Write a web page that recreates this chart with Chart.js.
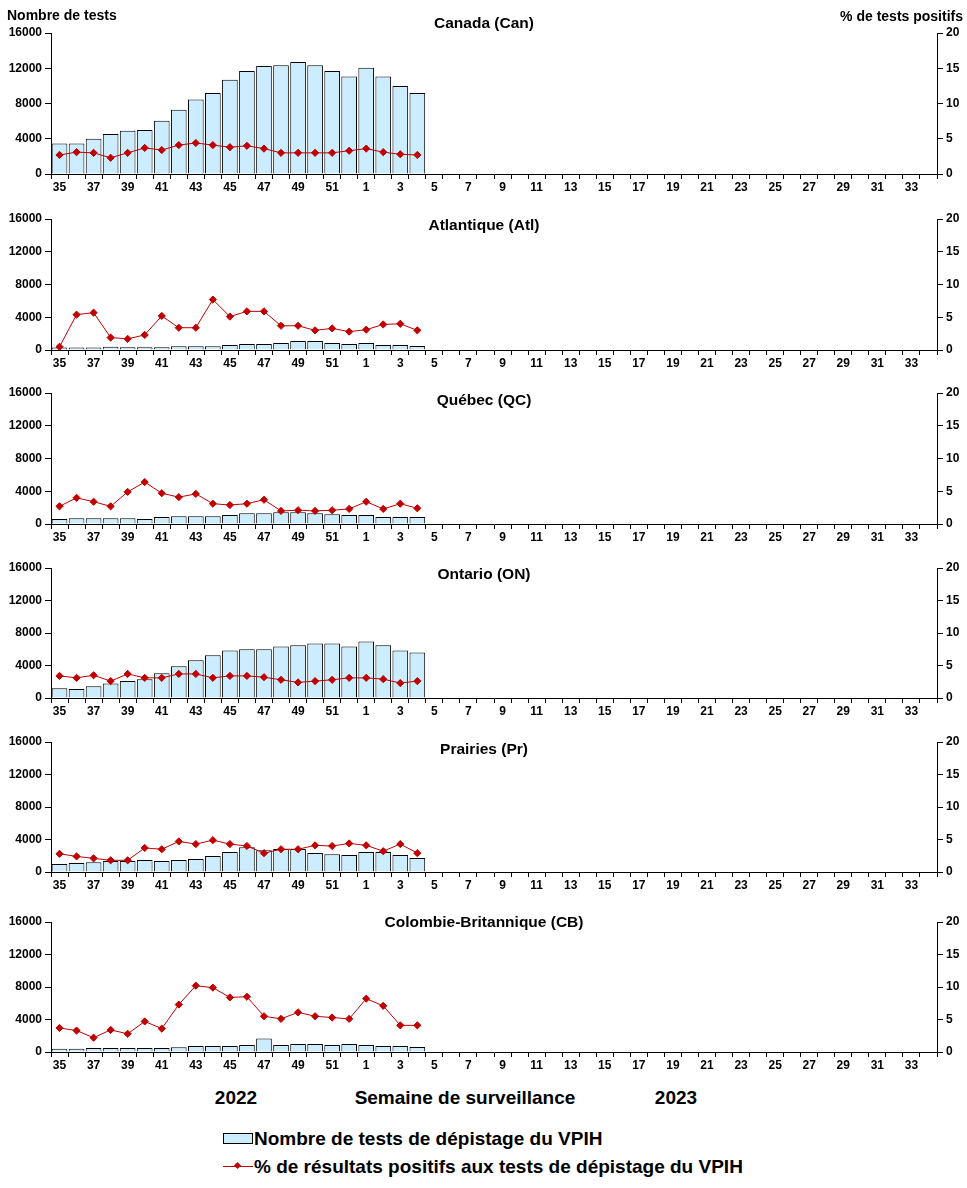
<!DOCTYPE html>
<html>
<head>
<meta charset="utf-8">
<script src="https://cdn.jsdelivr.net/npm/chart.js@4.4.1/dist/chart.umd.min.js"></script>
<style>
  html, body { margin:0; padding:0; background:#fff; }
  body { width:967px; height:1188px; position:relative; overflow:hidden; font-family:'Liberation Sans', Arial, sans-serif; color:#000; }
  canvas { position:absolute; left:0; }
  .t { position:absolute; white-space:nowrap; font-weight:bold; line-height:1; }
  .c { transform:translate(-50%,-50%); }
  .l { transform:translate(0,-50%); }
  .r { transform:translate(-100%,-50%); }
</style>
</head>
<body>
<script>
// ---- data ----
const weeks = ['35','36','37','38','39','40','41','42','43','44','45','46','47','48','49','50','51','52',
  '1','2','3','4','5','6','7','8','9','10','11','12','13','14','15','16','17','18','19','20','21','22',
  '23','24','25','26','27','28','29','30','31','32','33','34'];
const testsMax = 16000, testsStep = 4000;
const pctMax = 20, pctStep = 5;

const canTests = [3450,3450,4000,4550,4900,5000,6050,7300,8450,9200,10700,11700,12250,12350,12700,12350,11700,11050,12050,11050,10000,9200];
const canPct   = [2.7,3.1,3.0,2.3,3.0,3.7,3.4,4.1,4.4,4.1,3.8,4.0,3.6,3.0,3.0,3.0,3.0,3.3,3.6,3.1,2.8,2.7];
const atlTests = [300,300,300,400,350,350,350,450,450,450,600,730,730,850,1100,1100,850,730,850,600,600,480];
const atlPct   = [0.5,5.4,5.7,1.9,1.7,2.3,5.2,3.4,3.4,7.7,5.1,5.9,5.9,3.7,3.7,3.0,3.3,2.8,3.1,3.9,4.0,3.0];
const qcTests  = [600,700,700,700,700,600,850,950,950,950,1100,1300,1300,1450,1450,1300,1200,1100,1100,850,850,850];
const qcPct    = [2.7,4.0,3.4,2.7,4.9,6.4,4.7,4.1,4.6,3.1,2.9,3.1,3.7,2.0,2.1,2.0,2.1,2.3,3.4,2.3,3.1,2.4];
const onTests  = [1200,1100,1450,1800,2100,2300,3050,3900,4650,5250,5850,6000,6000,6350,6500,6700,6700,6350,6950,6500,5850,5600];
const onPct    = [3.4,3.1,3.5,2.6,3.7,3.1,3.1,3.7,3.7,3.1,3.4,3.4,3.2,2.8,2.4,2.6,2.8,3.1,3.1,2.9,2.3,2.6];
const prTests  = [1000,1100,1200,1350,1350,1470,1350,1470,1600,1960,2450,3060,2690,2820,2820,2330,2200,2080,2450,2450,2080,1710];
const prPct    = [2.8,2.4,2.1,1.8,1.8,3.7,3.5,4.7,4.3,4.9,4.3,4.0,2.9,3.5,3.5,4.1,4.0,4.4,4.1,3.2,4.3,2.9];
const cbTests  = [400,400,500,500,500,500,500,600,750,750,750,860,1650,860,1000,1000,860,1000,860,750,750,620];
const cbPct    = [3.7,3.3,2.2,3.4,2.8,4.7,3.6,7.3,10.2,9.9,8.4,8.5,5.5,5.1,6.1,5.5,5.3,5.1,8.2,7.1,4.1,4.1];

const regionTitles = ['Canada (Can)','Atlantique (Atl)','Québec (QC)','Ontario (ON)','Prairies (Pr)','Colombie-Britannique (CB)'];
const regionTests = [canTests, atlTests, qcTests, onTests, prTests, cbTests];
const regionPct = [canPct, atlPct, qcPct, onPct, prPct, cbPct];

const barLabel = 'Nombre de tests de dépistage du VPIH';
const lineLabel = '% de résultats positifs aux tests de dépistage du VPIH';

// ---- layout (positions only) ----
const layoutPanels = [
  {plotTop:33,  plotH:141, titleY:23},
  {plotTop:219, plotH:131, titleY:225},
  {plotTop:393, plotH:131, titleY:400},
  {plotTop:568, plotH:130, titleY:574},
  {plotTop:742, plotH:130, titleY:749},
  {plotTop:922, plotH:130, titleY:922}
];
const PAD_TOP = 12, XAX_H = 24, LEFT_W = 51, RIGHT_W = 30, W = 967;
const FONT = "'Liberation Sans', Arial, sans-serif";
const BAR_FILL = '#CCECFF', RED = '#C00000';

function addText(txt, x, y, size, cls) {
  const d = document.createElement('div');
  d.className = 't ' + cls;
  d.textContent = txt;
  d.style.left = x + 'px';
  d.style.top = y + 'px';
  d.style.fontSize = size + 'px';
  document.body.appendChild(d);
  return d;
}

const tickFont = {family: FONT, size: 12, weight: 'bold'};

layoutPanels.forEach((p, i) => {
  const cv = document.createElement('canvas');
  const H = p.plotH + PAD_TOP + XAX_H;
  cv.width = W; cv.height = H;
  cv.style.width = W + 'px'; cv.style.height = H + 'px';
  cv.style.top = (p.plotTop - PAD_TOP) + 'px';
  document.body.appendChild(cv);

  new Chart(cv.getContext('2d'), {
    data: {
      labels: weeks,
      datasets: [
        {
          type: 'line', label: lineLabel, data: regionPct[i], yAxisID: 'y1', order: 0,
          borderColor: RED, borderWidth: 1, tension: 0,
          pointStyle: 'rectRot', pointRadius: 3.6, pointBackgroundColor: RED, pointBorderColor: RED, pointBorderWidth: 1
        },
        {
          type: 'bar', label: barLabel, data: regionTests[i], yAxisID: 'y', order: 1,
          backgroundColor: BAR_FILL, borderColor: '#000', borderWidth: 1,
          barPercentage: 0.92, categoryPercentage: 1.0
        }
      ]
    },
    options: {
      responsive: false, animation: false, devicePixelRatio: 1,
      layout: {padding: {top: PAD_TOP, left: 0, right: 0, bottom: 0}},
      plugins: {legend: {display: false}, tooltip: {enabled: false}, title: {display: false}},
      scales: {
        x: {
          type: 'category', offset: true,
          grid: {display: true, drawOnChartArea: false, drawTicks: true, tickLength: 5, offset: true, color: '#000', lineWidth: 1},
          border: {display: true, color: '#000', width: 1},
          ticks: {autoSkip: false, maxRotation: 0, minRotation: 0, padding: 1, color: '#000', font: tickFont,
                  callback: (v, idx) => idx % 2 === 0 ? weeks[idx] : ''},
          afterFit: s => { s.height = XAX_H; }
        },
        y: {
          position: 'left', min: 0, max: testsMax,
          grid: {display: true, drawOnChartArea: false, drawTicks: true, tickLength: 6, color: '#000'},
          border: {display: true, color: '#000', width: 1},
          ticks: {stepSize: testsStep, padding: 3, color: '#000', font: tickFont, callback: v => String(v)},
          afterFit: s => { s.width = LEFT_W; }
        },
        y1: {
          position: 'right', min: 0, max: pctMax,
          grid: {display: true, drawOnChartArea: false, drawTicks: true, tickLength: 6, color: '#000'},
          border: {display: true, color: '#000', width: 1},
          ticks: {stepSize: pctStep, padding: 3, color: '#000', font: tickFont, callback: v => String(v)},
          afterFit: s => { s.width = RIGHT_W; }
        }
      }
    }
  });

  addText(regionTitles[i], 484, p.titleY, 15.5, 'c');
});

// axis titles
addText('Nombre de tests', 7, 15, 14, 'l');
addText('%  de tests positifs', 963, 16, 14, 'r');

// bottom labels
addText('2022', 236, 1097, 19, 'c');
addText('Semaine de surveillance', 465, 1097, 19, 'c');
addText('2023', 676, 1097, 19, 'c');

// legend
const box = document.createElement('div');
box.style.cssText = 'position:absolute;left:223px;top:1133px;width:28px;height:9px;background:' + BAR_FILL + ';border:1px solid #000;';
document.body.appendChild(box);
const ln = document.createElement('div');
ln.style.cssText = 'position:absolute;left:223px;top:1166px;width:30px;height:1px;background:' + RED + ';';
document.body.appendChild(ln);
const dm = document.createElement('div');
dm.style.cssText = 'position:absolute;left:235px;top:1163px;width:5px;height:5px;background:' + RED + ';transform:rotate(45deg);';
document.body.appendChild(dm);
addText(barLabel, 254, 1138, 19, 'l');
addText(lineLabel, 254, 1166, 19, 'l');
</script>
</body>
</html>
